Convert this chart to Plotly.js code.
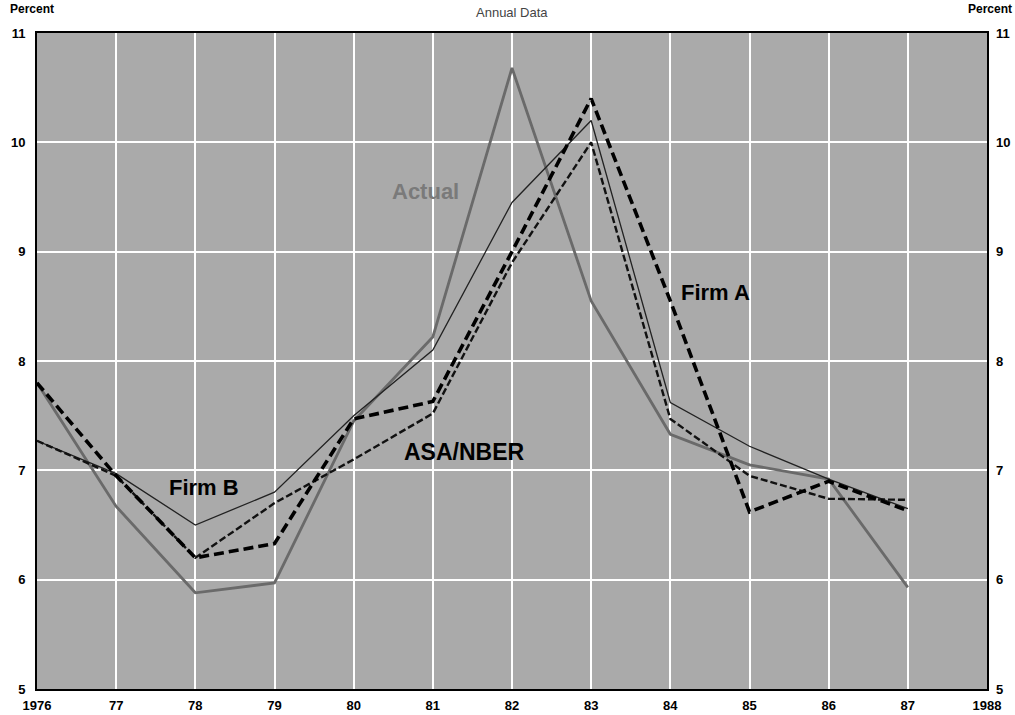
<!DOCTYPE html>
<html><head><meta charset="utf-8">
<script src="https://cdn.plot.ly/plotly-3.0.1.min.js"></script>
<style>body{margin:0;background:#fff}#chart{width:1015px;height:715px}</style>
</head><body><div id="chart"></div>
<script>
const years = [1976,1977,1978,1979,1980,1981,1982,1983,1984,1985,1986,1987];
const actual = [7.8,6.67,5.88,5.97,7.45,8.22,10.68,8.55,7.33,7.05,6.92,5.93];
const firmA  = [7.8,6.95,6.2,6.33,7.47,7.63,9.0,10.4,8.55,6.62,6.9,6.63];
const firmB  = [7.27,6.97,6.5,6.8,7.5,8.1,9.45,10.2,7.62,7.22,6.92,6.65];
const asaNber= [7.27,6.95,6.2,6.7,7.1,7.52,8.9,10.0,7.47,6.95,6.74,6.73];
const xTickVals = [1976,1977,1978,1979,1980,1981,1982,1983,1984,1985,1986,1987,1988];
const xTickText = ['1976','77','78','79','80','81','82','83','84','85','86','87','1988'];
const yTickVals = [5,6,7,8,9,10,11];
const yTickText = ['5','6','7','8','9','10','11'];

const bold = a => a.map(s => '<b>' + s + '</b>');
const traces = [
  {x: years, y: actual, mode: 'lines', line: {color: '#6a6a6a', width: 2.8}, name: 'Actual'},
  {x: years, y: firmB, mode: 'lines', line: {color: '#222', width: 1.3}, name: 'Firm B'},
  {x: years, y: asaNber, mode: 'lines', line: {color: '#111', width: 2.4, dash: '7px,3px'}, name: 'ASA/NBER'},
  {x: years, y: firmA, mode: 'lines', line: {color: '#000', width: 3.6, dash: '10px,5px'}, name: 'Firm A'},
  {x: [1976], y: [5], yaxis: 'y2', mode: 'markers', marker: {opacity: 0}, showlegend: false, hoverinfo: 'skip'}
];
const fam = 'Liberation Sans, Arial, sans-serif';
const layout = {
  width: 1015, height: 715,
  margin: {l: 37, r: 28, t: 33, b: 26},
  paper_bgcolor: '#ffffff', plot_bgcolor: '#aaaaaa',
  showlegend: false,
  font: {family: fam, color: '#000'},
  xaxis: {range: [1976, 1988], tickvals: xTickVals, ticktext: bold(xTickText),
          tickfont: {size: 13, family: fam}, showgrid: true, gridcolor: '#ffffff', gridwidth: 2,
          showline: true, linecolor: '#000', linewidth: 2, mirror: true, ticks: '', zeroline: false,
          ticklabelstandoff: 3},
  yaxis: {range: [5, 11], tickvals: yTickVals, ticktext: bold(yTickText),
          tickfont: {size: 13, family: fam}, showgrid: true, gridcolor: '#ffffff', gridwidth: 2,
          showline: true, linecolor: '#000', linewidth: 2, mirror: true, ticks: '', zeroline: false,
          ticklabelstandoff: 7},
  yaxis2: {range: [5, 11], overlaying: 'y', side: 'right', tickvals: yTickVals, ticktext: bold(yTickText),
          tickfont: {size: 13, family: fam}, showgrid: false, showline: false, ticks: '', zeroline: false,
          ticklabelstandoff: 8},
  annotations: [
    {text: '<b>Percent</b>', xref: 'paper', yref: 'paper', x: -0.031, y: 1.036, xanchor: 'left', yanchor: 'middle', showarrow: false, font: {size: 12, family: fam}},
    {text: '<b>Percent</b>', xref: 'paper', yref: 'paper', x: 1.028, y: 1.036, xanchor: 'right', yanchor: 'middle', showarrow: false, font: {size: 12, family: fam}},
    {text: 'Annual Data', xref: 'paper', yref: 'paper', x: 0.5, y: 1.032, xanchor: 'center', yanchor: 'middle', showarrow: false, font: {size: 13, family: fam, color: '#444'}},
    {text: '<b>Actual</b>', x: 1980.91, y: 9.55, xanchor: 'center', showarrow: false, font: {size: 22, family: fam, color: '#7a7a7a'}},
    {text: '<b>ASA/NBER</b>', x: 1981.4, y: 7.17, xanchor: 'center', showarrow: false, font: {size: 23, family: fam}},
    {text: '<b>Firm A</b>', x: 1984.57, y: 8.63, xanchor: 'center', showarrow: false, font: {size: 22, family: fam}},
    {text: '<b>Firm B</b>', x: 1978.11, y: 6.84, xanchor: 'center', showarrow: false, font: {size: 22, family: fam}}
  ]
};
Plotly.newPlot('chart', traces, layout, {displayModeBar: false, staticPlot: true});
</script></body></html>
